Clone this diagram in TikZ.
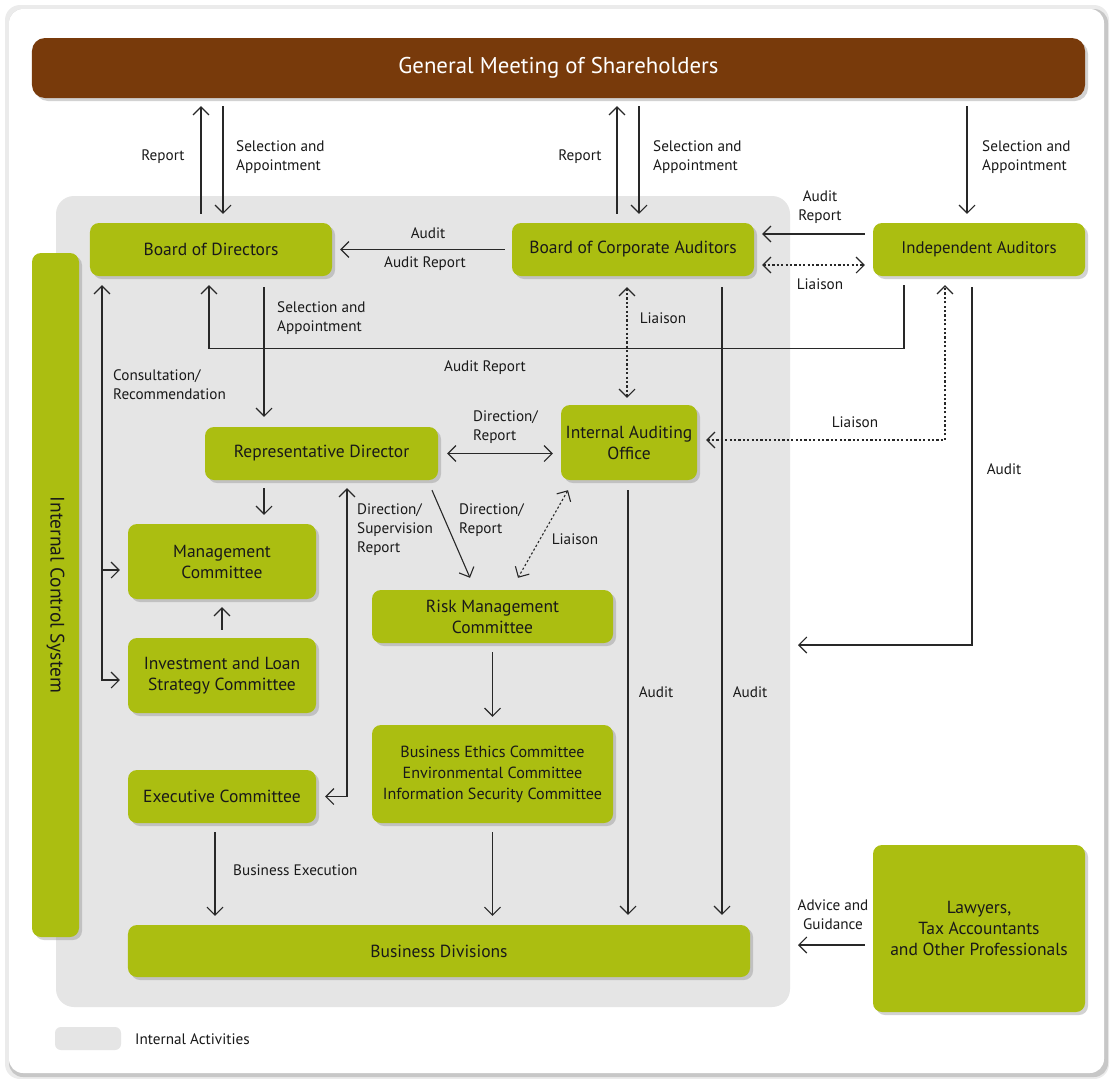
\documentclass[tikz,border=0pt]{standalone}
\usepackage{fontspec}
\setmainfont{PT Sans}
\usetikzlibrary{arrows.meta,calc,shadows}
\definecolor{gr}{RGB}{171,190,17}
\definecolor{brn}{RGB}{120,58,11}
\definecolor{lc}{RGB}{40,40,40}
\definecolor{inact}{RGB}{229,229,229}
\definecolor{txt}{RGB}{25,25,25}
\newcommand\boxf{\fontsize{17.5bp}{21bp}\selectfont}
\newcommand\lblf{\fontsize{15.2bp}{19bp}\selectfont}
\begin{document}
\begin{tikzpicture}[x=1bp,y=-1bp,
  box/.style={rounded corners=9bp, fill=gr, align=center, inner sep=0pt, text=txt, font=\boxf,
    drop shadow={opacity=0.35, shadow xshift=3bp, shadow yshift=-3bp}},
  lbl/.style={font=\lblf, text=txt, inner sep=0pt, align=left},
  lblc/.style={font=\lblf, text=txt, inner sep=0pt, align=center},
  arr/.style={draw=lc, line width=1.1bp, -{Straight Barb[length=8bp,width=16bp]}},
  arrs/.style={draw=lc, line width=1.1bp, {Straight Barb[length=8bp,width=16bp]}-{Straight Barb[length=8bp,width=16bp]}},
  darrs/.style={arrs, dash pattern=on 2.2bp off 2.2bp}]
\useasboundingbox (0,0) rectangle (1111,1079);
% frame
\fill[black!8, rounded corners=15bp] (5,5) rectangle (1109,1079);
\fill[black!22, rounded corners=14bp] (9,9) rectangle (1108,1077);
\fill[white, rounded corners=14bp] (9,9) rectangle (1104,1073);
% internal activities area
\fill[inact, rounded corners=18bp] (56,196) rectangle (790,1007);
% legend
\fill[inact, rounded corners=6bp] (55,1027) rectangle (121,1050);
\node[lbl, anchor=west] (leg) at (135,1039) {Internal Activities};

% nodes
\node[box, fill=brn, text=white, rounded corners=13bp, minimum width=1053bp, minimum height=60bp,
  font=\fontsize{22.8bp}{26bp}\selectfont] (gm) at (558.5,68) {General Meeting of Shareholders};
\node[box, minimum width=47bp, minimum height=684bp] (ics) at (55.5,595) {};
\node[rotate=-90, font=\fontsize{19.5bp}{22bp}\selectfont, text=txt, inner sep=0pt] (icst) at (ics.center) {Internal Control System};
\node[box, minimum width=242bp, minimum height=53bp] (bod) at (211,249.5) {Board of Directors};
\node[box, minimum width=242bp, minimum height=53bp] (bca) at (633,249.5) {Board of Corporate Auditors};
\node[box, minimum width=212bp, minimum height=53bp, font=\fontsize{16.8bp}{21bp}\selectfont] (ia) at (979,249.5) {Independent Auditors};
\node[box, minimum width=233bp, minimum height=53bp] (rd) at (321.5,453.5) {Representative Director};
\node[box, minimum width=136bp, minimum height=75bp] (iao) at (629,442.5) {Internal Auditing\\Office};
\node[box, minimum width=188bp, minimum height=75bp] (mc) at (222,561.5) {Management\\Committee};
\node[box, minimum width=188bp, minimum height=75bp] (ilsc) at (222,675.5) {Investment and Loan\\Strategy Committee};
\node[box, minimum width=241bp, minimum height=53bp] (rmc) at (492.5,616.5) {Risk Management\\Committee};
\node[box, minimum width=241bp, minimum height=98bp, font=\fontsize{16.1bp}{21bp}\selectfont] (eth) at (492.5,774) {Business Ethics Committee\\Environmental Committee\\Information Security Committee};
\node[box, minimum width=188bp, minimum height=53bp] (ec) at (222,796.5) {Executive Committee};
\node[box, minimum width=622bp, minimum height=52bp] (bd) at (439,951) {Business Divisions};
\node[box, minimum width=212bp, minimum height=167bp] (law) at (979,928.5) {Lawyers,\\Tax Accountants\\and Other Professionals};

\coordinate (iaend) at (798,645);
\coordinate (lawend) at (798,945);

% connectors to GM
\draw[arr] ($(bod.north)+(-10,-9)$) coordinate (a) -- ($(gm.south -| a)+(0,8)$);
\draw[arr] ($(gm.south)+(-335.5,8)$) coordinate (a) -- ($(bod.north -| a)+(0,-9)$);
\draw[arr] ($(bca.north)+(-16,-9)$) coordinate (a) -- ($(gm.south -| a)+(0,8)$);
\draw[arr] ($(gm.south)+(80.5,8)$) coordinate (a) -- ($(bca.north -| a)+(0,-9)$);
\draw[arr] ($(gm.south)+(408.5,8)$) coordinate (a) -- ($(ia.north -| a)+(0,-9)$);
\node[lblc] (l1) at (163,157) {Report};
\node[lbl, anchor=west] (l2) at (236,157) {Selection and\\Appointment};
\node[lblc] (l3) at (580,157) {Report};
\node[lbl, anchor=west] (l4) at (653,157) {Selection and\\Appointment};
\node[lbl, anchor=west] (l5) at (982,157) {Selection and\\Appointment};

% BCA -> BoD
\draw[arr] ($(bca.west)+(-7,0)$) -- ($(bod.east)+(8,0)$);
\node[lblc] (l6) at (428,233) {Audit};
\node[lblc] (l7) at (425,263.5) {Audit Report};
% IA -> BCA
\draw[arr] ($(ia.west)+(-8,-15.5)$) -- ($(bca.east)+(8,-15.5)$);
\draw[darrs] ($(bca.east)+(8,15.5)$) -- ($(ia.west)+(-8,15.5)$);
\node[lblc] (l8) at (820,207) {Audit\\Report};
\node[lblc] (l9) at (820,284.5) {Liaison};
% IA -> BoD audit report
\draw[arr] ($(ia.south)+(-75,9)$) |- ($(bod.south)+(-2,72)$) -- ($(bod.south)+(-2,9)$);
\node[lblc] (l10) at (485,367.5) {Audit Report};
% BoD -> RD
\draw[arr] ($(bod.south)+(53,11)$) coordinate (a) -- ($(rd.north -| a)+(0,-10)$);
\node[lbl, anchor=west] (l11) at (277,318.5) {Selection and\\Appointment};
% consultation
\draw[arrs] ($(ilsc.west)+(-8,4.5)$) -| ($(bod.south)+(-109,9)$);
\draw[arr] ($(mc.west)+(-26,8.5)$) -- ($(mc.west)+(-8,8.5)$);
\node[lbl, anchor=west] (l12) at (113,385) {Consultation/\\Recommendation};
% BCA <-> IAO liaison
\draw[darrs] ($(bca.south)+(-6,11)$) coordinate (a) -- ($(iao.north -| a)+(0,-7)$);
\node[lblc] (l13) at (663,318.5) {Liaison};
% BCA audit
\draw[arr] ($(bca.south)+(89,11)$) coordinate (a) -- ($(bd.north -| a)+(0,-10)$);
\node[lblc] (l14) at (750,692.5) {Audit};
% IAO audit
\draw[arr] ($(iao.south)+(-1,10)$) coordinate (a) -- ($(bd.north -| a)+(0,-10)$);
\node[lblc] (l15) at (656,692.5) {Audit};
% RD <-> IAO
\draw[arrs] ($(rd.east)+(9,0)$) coordinate (a) -- ($(iao.west |- a)+(-8,0)$);
\node[lbl, anchor=west] (l16) at (473,427.5) {Direction/\\Report};
% IA <-> IAO liaison
\draw[darrs] ($(iao.east)+(9,-2.5)$) -| ($(ia.south)+(-34,9)$);
\node[lblc] (l17) at (855,422.5) {Liaison};
% IA audit
\draw[arr] ($(ia.south)+(-7,11)$) |- (iaend);
\node[lblc] (l18) at (1004,469.5) {Audit};
% RD -> MC
\draw[arr] ($(rd.south)+(-57.5,8)$) coordinate (a) -- ($(mc.north -| a)+(0,-9)$);
% ILSC -> MC
\draw[arr] ($(ilsc.north)+(0,-8)$) -- ($(mc.south)+(0,8)$);
% EC <-> RD
\draw[arrs] ($(ec.east)+(9,0)$) -| ($(rd.south)+(25.5,8)$);
\node[lbl, anchor=west] (l19) at (357,530) {Direction/\\Supervision\\Report};
% RD -> RMC
\draw[arr] ($(rd.south)+(110.5,10)$) -- ($(rmc.north)+(-22.5,-12)$);
\node[lbl, anchor=west] (l20) at (459,520.5) {Direction/\\Report};
% IAO <-> RMC liaison
\draw[darrs] ($(iao.south)+(-61,10)$) -- ($(rmc.north)+(25.5,-12)$);
\node[lblc] (l21) at (575,539.5) {Liaison};
% RMC -> Ethics
\draw[arr] ($(rmc.south)+(0,9)$) -- ($(eth.north)+(0,-8)$);
% EC -> BD
\draw[arr] ($(ec.south)+(-7,9)$) coordinate (a) -- ($(bd.north -| a)+(0,-9)$);
\node[lbl, anchor=west] (l22) at (233,870.5) {Business Execution};
% Ethics -> BD
\draw[arr] ($(eth.south)+(0,9)$) coordinate (a) -- ($(bd.north -| a)+(0,-9)$);
% Lawyers
\draw[arr] ($(law.west)+(-8,16.5)$) -- (lawend);
\node[lblc] (l23) at (833,915) {Advice and\\Guidance};
\end{tikzpicture}
\end{document}
